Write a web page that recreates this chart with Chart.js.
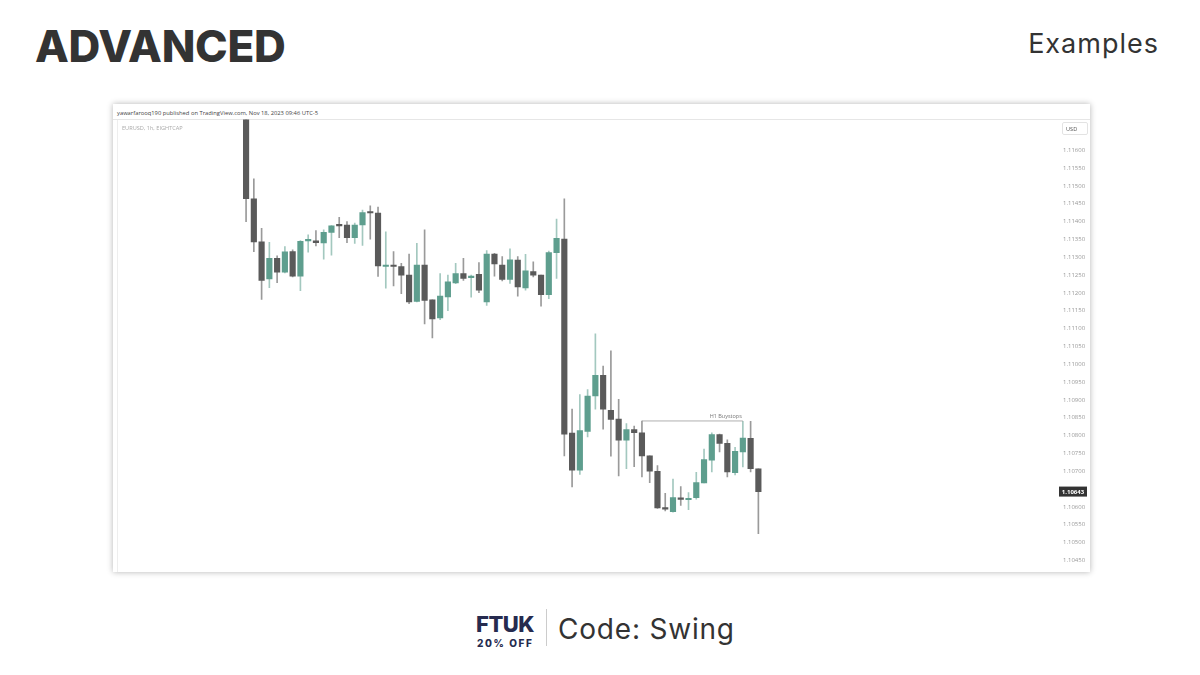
<!DOCTYPE html>
<html>
<head>
<meta charset="utf-8">
<script src="https://cdn.jsdelivr.net/npm/chart.js@4.4.0/dist/chart.umd.min.js"></script>
<style>
  body { margin: 0; width: 1200px; height: 675px; background: #fff; position: relative; overflow: hidden; font-family: Inter, sans-serif; }
  #title { position: absolute; left: 35px; top: 19px; font-size: 44px; font-weight: 800; color: #333; letter-spacing: -0.3px; }
  #examples { position: absolute; right: 41px; top: 27px; font-size: 27px; color: #333; letter-spacing: 1px; }
  #box { position: absolute; left: 113px; top: 104px; width: 977px; height: 468px; background: #fff; box-shadow: 0 0 6px rgba(0,0,0,0.3); }
  #pub { position: absolute; left: 4px; top: 5px; font-size: 5.8px; color: #444; font-family: "Open Sans"; white-space: nowrap; }
  #sep { position: absolute; left: 0; top: 15px; width: 100%; height: 1px; background: #e6e6e6; }
  #paneEdge { position: absolute; left: 4px; top: 16px; width: 1px; height: 452px; background: #eeeeee; }
  #sym { position: absolute; left: 9px; top: 20px; font-size: 5.6px; color: #aaa; font-family: "Open Sans"; white-space: nowrap; }
  #usd { position: absolute; left: 949px; top: 18px; width: 22px; height: 12px; border: 1px solid #e3e3e3; border-radius: 2px; font-size: 5.6px; color: #555; font-family: "Open Sans"; line-height: 12px; padding-left: 3px; box-sizing: border-box; width: 26px; height: 13px; }
  #wrap { position: absolute; left: 1px; top: 7px; width: 975px; height: 468px; }
  #ftuk { position: absolute; left: 476px; top: 611px; font-size: 22px; font-weight: 800; color: #262b4f; letter-spacing: -0.5px; }
  #off { position: absolute; left: 477px; top: 637px; font-size: 10px; font-weight: 800; color: #262b4f; letter-spacing: 1.6px; }
  #vsep { position: absolute; left: 546px; top: 609px; width: 1px; height: 37px; background: #cccccc; }
  #code { position: absolute; left: 558px; top: 612px; font-size: 28px; color: #333; letter-spacing: 0.8px; }
</style>
</head>
<body>
<div id="title">ADVANCED</div>
<div id="examples">Examples</div>
<div id="box">
  <div id="pub">yawarfarooq190 published on TradingView.com, Nov 18, 2023 09:46 UTC-5</div>
  <div id="sep"></div>
  <div id="paneEdge"></div>
  <div id="wrap"><canvas id="chart" width="975" height="468"></canvas></div>
  <div id="sym">EURUSD, 1h, EIGHTCAP</div>
  <div id="usd">USD</div>
</div>
<div id="ftuk">FTUK</div>
<div id="off">20% OFF</div>
<div id="vsep"></div>
<div id="code">Code: Swing</div>

<script>
// EURUSD 1h candles
const opens = [1.11720, 1.11464, 1.11343, 1.11239, 1.11297, 1.11258, 1.11316, 1.11247, 1.11346, 1.11346,
  1.11340, 1.11370, 1.11390, 1.11390, 1.11355, 1.11391, 1.11424, 1.11424, 1.11274, 1.11277,
  1.11274, 1.11250, 1.11176, 1.11278, 1.11181, 1.11130, 1.11189, 1.11228, 1.11254, 1.11243,
  1.11252, 1.11175, 1.11309, 1.11278, 1.11238, 1.11292, 1.11214, 1.11260, 1.11250, 1.11195,
  1.11313, 1.11351, 1.10807, 1.10703, 1.10812, 1.10911, 1.10969, 1.10871, 1.10846, 1.10787,
  1.10817, 1.10808, 1.10743, 1.10700, 1.10597, 1.10587, 1.10623, 1.10620, 1.10626, 1.10667,
  1.10731, 1.10803, 1.10778, 1.10696, 1.10754, 1.10792, 1.10707];
const highs = [1.11740, 1.11520, 1.11381, 1.11342, 1.11304, 1.11330, 1.11321, 1.11347, 1.11363, 1.11375,
  1.11377, 1.11389, 1.11412, 1.11400, 1.11396, 1.11432, 1.11444, 1.11441, 1.11371, 1.11316,
  1.11283, 1.11309, 1.11339, 1.11377, 1.11181, 1.11254, 1.11250, 1.11283, 1.11297, 1.11250,
  1.11285, 1.11319, 1.11311, 1.11302, 1.11324, 1.11302, 1.11308, 1.11287, 1.11250, 1.11317,
  1.11407, 1.11464, 1.10874, 1.10915, 1.10929, 1.11085, 1.10995, 1.11038, 1.10902, 1.10834,
  1.10827, 1.10841, 1.10743, 1.10716, 1.10638, 1.10678, 1.10657, 1.10640, 1.10697, 1.10762,
  1.10808, 1.10804, 1.10788, 1.10767, 1.10840, 1.10840, 1.10707];
const lows = [1.11400, 1.11316, 1.11182, 1.11215, 1.11229, 1.11256, 1.11245, 1.11206, 1.11314, 1.11332,
  1.11295, 1.11306, 1.11355, 1.11341, 1.11339, 1.11333, 1.11351, 1.11246, 1.11213, 1.11220,
  1.11198, 1.11170, 1.11175, 1.11113, 1.11074, 1.11125, 1.11150, 1.11226, 1.11235, 1.11188,
  1.11201, 1.11165, 1.11247, 1.11234, 1.11227, 1.11191, 1.11208, 1.11245, 1.11163, 1.11184,
  1.11241, 1.10743, 1.10656, 1.10691, 1.10796, 1.10874, 1.10818, 1.10742, 1.10687, 1.10707,
  1.10713, 1.10684, 1.10668, 1.10596, 1.10589, 1.10585, 1.10604, 1.10592, 1.10622, 1.10667,
  1.10698, 1.10754, 1.10684, 1.10690, 1.10712, 1.10698, 1.10525];
const closes = [1.11464, 1.11343, 1.11235, 1.11297, 1.11258, 1.11315, 1.11247, 1.11345, 1.11347, 1.11341,
  1.11370, 1.11388, 1.11388, 1.11355, 1.11390, 1.11425, 1.11424, 1.11276, 1.11277, 1.11274,
  1.11250, 1.11175, 1.11278, 1.11179, 1.11127, 1.11191, 1.11231, 1.11254, 1.11241, 1.11247,
  1.11208, 1.11309, 1.11281, 1.11238, 1.11293, 1.11217, 1.11262, 1.11250, 1.11195, 1.11313,
  1.11353, 1.10804, 1.10703, 1.10814, 1.10911, 1.10969, 1.10874, 1.10845, 1.10787, 1.10817,
  1.10808, 1.10743, 1.10700, 1.10597, 1.10594, 1.10626, 1.10621, 1.10622, 1.10668, 1.10733,
  1.10803, 1.10778, 1.10698, 1.10756, 1.10793, 1.10707, 1.10643];

const priceTicks = [1.11600, 1.11550, 1.11500, 1.11450, 1.11400, 1.11350, 1.11300, 1.11250, 1.11200,
  1.11150, 1.11100, 1.11050, 1.11000, 1.10950, 1.10900, 1.10850, 1.10800, 1.10750, 1.10700,
  1.10600, 1.10550, 1.10500, 1.10450];

const buystopLevel = 1.10841;
const buystopFrom = 51;
const buystopTo = 64;

const upColor = '#5e9e8e';
const downColor = '#5a5a5a';
const upWick = '#a3c8bf';
const downWick = '#9a9a9a';

const idx = opens.map((_, i) => i);
const isUp = idx.map(i => closes[i] > opens[i]);

const lastPrice = {
  id: 'lastPrice',
  afterDraw(chart) {
    const { ctx, chartArea, scales } = chart;
    const v = closes[closes.length - 1];
    const y = scales.y.getPixelForValue(v);
    ctx.save();
    ctx.fillStyle = '#333333';
    ctx.fillRect(chartArea.right + 1, y - 5, 28, 10);
    ctx.fillStyle = '#ffffff';
    ctx.font = 'bold 6px "Open Sans"';
    ctx.textAlign = 'center';
    ctx.textBaseline = 'middle';
    ctx.fillText(v.toFixed(5), chartArea.right + 15, y + 0.5);
    // label for the buystop level
    const xr = scales.x.getPixelForValue(buystopTo);
    const yl = scales.y.getPixelForValue(buystopLevel);
    ctx.fillStyle = '#777';
    ctx.font = '5.5px "Open Sans"';
    ctx.textAlign = 'right';
    ctx.textBaseline = 'bottom';
    ctx.fillText('H1 Buystops', xr - 1, yl - 2);
    ctx.restore();
  }
};

new Chart(document.getElementById('chart'), {
  type: 'bar',
  data: {
    datasets: [
      {
        label: 'wick',
        data: idx.map(i => ({ x: i, y: [lows[i], highs[i]] })),
        backgroundColor: idx.map(i => isUp[i] ? upWick : downWick),
        barThickness: 1,
        grouped: false,
        order: 2
      },
      {
        label: 'body',
        data: idx.map(i => ({ x: i, y: [opens[i], closes[i]] })),
        backgroundColor: idx.map(i => isUp[i] ? upColor : downColor),
        barThickness: 5.5,
        minBarLength: 1.5,
        grouped: false,
        order: 1
      },
      {
        type: 'line',
        label: 'H1 Buystops',
        data: [{ x: buystopFrom, y: buystopLevel }, { x: buystopTo, y: buystopLevel }],
        borderColor: '#9a9a9a',
        borderWidth: 0.8,
        pointRadius: 0,
        order: 0
      }
    ]
  },
  options: {
    responsive: false,
    animation: false,
    layout: { padding: { left: 4, right: 4, top: 0, bottom: 0 } },
    plugins: { legend: { display: false }, tooltip: { enabled: false } },
    scales: {
      x: { type: 'linear', min: -16.5, max: 104.6, display: false, offset: false },
      y: {
        position: 'right',
        min: 1.10422,
        max: 1.11686,
        grid: { display: false, drawTicks: false },
        border: { display: false },
        afterBuildTicks: s => { s.ticks = priceTicks.map(v => ({ value: v })); },
        afterFit: s => { s.width = 27; },
        ticks: {
          padding: 5,
          color: '#9a9a9a',
          font: { size: 6, family: 'Open Sans' },
          callback: v => Number(v).toFixed(5)
        }
      }
    }
  },
  plugins: [lastPrice]
});
</script>
</body>
</html>
